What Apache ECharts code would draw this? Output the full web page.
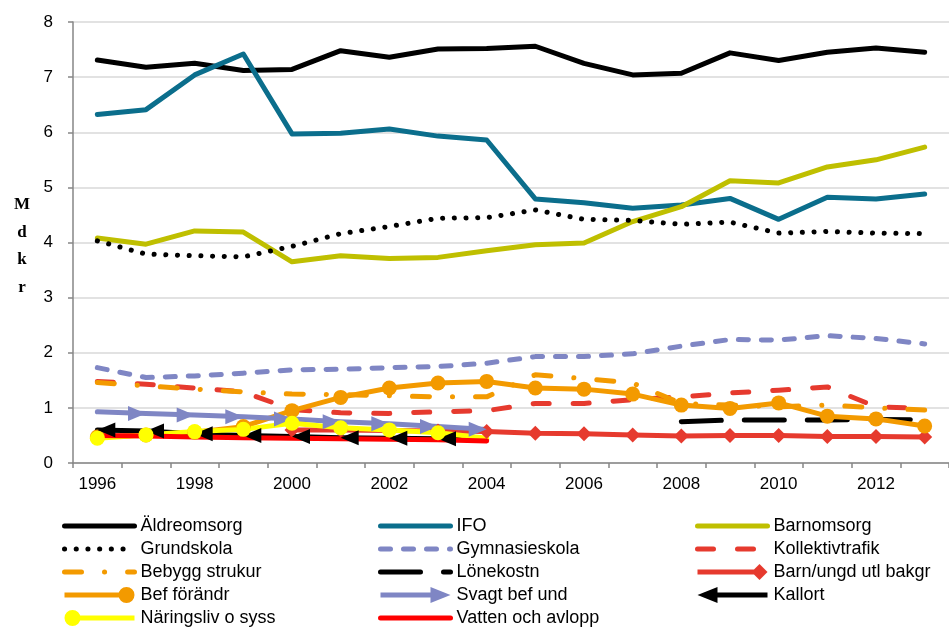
<!DOCTYPE html>
<html>
<head>
<meta charset="utf-8">
<title>Mdkr 1996–2013</title>
<script src="https://cdn.jsdelivr.net/npm/echarts@6/dist/echarts.min.js"></script>
<style>
  html, body { margin: 0; padding: 0; background: #fff; }
  #chart { width: 949px; height: 627px; }
</style>
</head>
<body>
<div id="chart"></div>
<script>
// Categories
const years = ['1996','1997','1998','1999','2000','2001','2002','2003','2004',
               '2005','2006','2007','2008','2009','2010','2011','2012','2013'];

// Series values (Mdkr), null where a series has no value
const aldreomsorg     = [7.31,7.18,7.25,7.12,7.14,7.48,7.36,7.51,7.52,7.56,7.25,7.04,7.07,7.44,7.30,7.45,7.53,7.45];
const ifo             = [6.32,6.41,7.04,7.42,5.97,5.98,6.06,5.93,5.86,4.79,4.72,4.62,4.68,4.80,4.42,4.82,4.79,4.88];
const barnomsorg      = [4.08,3.97,4.21,4.19,3.65,3.76,3.71,3.73,3.85,3.96,3.99,4.38,4.65,5.12,5.08,5.37,5.50,5.73];
const grundskola      = [4.03,3.79,3.76,3.74,3.93,4.16,4.29,4.44,4.45,4.59,4.42,4.40,4.33,4.37,4.17,4.20,4.17,4.16];
const gymnasieskola   = [1.73,1.55,1.58,1.63,1.69,1.70,1.73,1.75,1.81,1.93,1.93,1.98,2.12,2.24,2.23,2.31,2.26,2.16];
const kollektivtrafik = [1.48,1.43,1.36,1.29,0.97,0.91,0.90,0.93,0.95,1.08,1.08,1.15,1.20,1.27,1.32,1.38,1.02,0.99];
const bebyggStrukur   = [1.46,1.40,1.34,1.29,1.25,1.24,1.22,1.20,1.20,1.60,1.53,1.45,1.08,1.05,1.02,1.05,1.00,0.96];
const lonekostn       = [null,null,null,null,null,null,null,null,null,null,null,null,0.75,0.78,0.78,0.78,0.79,0.78];
const barnUngdUtl     = [null,null,null,null,0.60,0.60,0.59,0.58,0.57,0.54,0.53,0.51,0.49,0.50,0.50,0.48,0.48,0.47];
const befForandr      = [0.47,0.51,0.56,0.66,0.95,1.19,1.36,1.45,1.48,1.36,1.34,1.25,1.05,0.99,1.09,0.85,0.80,0.67];
const svagtBefUnd     = [0.93,0.90,0.87,0.84,0.80,0.75,0.71,0.66,0.61,null,null,null,null,null,null,null,null,null];
const kallort         = [0.60,0.58,0.53,0.50,0.48,0.46,0.45,0.44,0.43,null,null,null,null,null,null,null,null,null];
const naringsliv      = [0.45,0.51,0.57,0.61,0.72,0.64,0.60,0.55,0.45,null,null,null,null,null,null,null,null,null];
const vattenAvlopp    = [0.50,0.49,0.47,0.46,0.45,0.44,0.43,0.42,0.40,null,null,null,null,null,null,null,null,null];

// Y axis tick labels
const yTicks = ['0','1','2','3','4','5','6','7','8'];

const FONT = '"Liberation Sans", Arial, sans-serif';
const COL = {
  black: '#000000', teal: '#0B6E8C', olive: '#BFBF00', lavender: '#7F86C4',
  red: '#E63A2E', orange: '#F39A00', yellow: '#FFFF00', pure: '#FF0000'
};
const LW = 5;

// Legend icons for the series that carry markers
const ICONS = {
  circleRight: 'path://M0,5.5H60V10.5H0Z M54,8A8,8 0 1,1 70,8A8,8 0 1,1 54,8Z',
  circleLeft:  'path://M8,5.5H70V10.5H8Z M0,8A8,8 0 1,1 16,8A8,8 0 1,1 0,8Z',
  diamond:     'path://M0,5.5H58V10.5H0Z M54,8L62,0L70,8L62,16Z',
  arrowRight:  'path://M0,5.5H52V10.5H0Z M50,0L70,8L50,16Z',
  arrowLeft:   'path://M18,5.5H70V10.5H18Z M0,8L20,0L20,16Z'
};

const specs = [
  { name: 'Äldreomsorg',        data: aldreomsorg,     color: COL.black,    dash: 'solid' },
  { name: 'IFO',                data: ifo,             color: COL.teal,     dash: 'solid' },
  { name: 'Barnomsorg',         data: barnomsorg,      color: COL.olive,    dash: 'solid' },
  { name: 'Grundskola',         data: grundskola,      color: COL.black,    dash: [0.1, 11.6] },
  { name: 'Gymnasieskola',      data: gymnasieskola,   color: COL.lavender, dash: [10, 13] },
  { name: 'Kollektivtrafik',    data: kollektivtrafik, color: COL.red,      dash: [16, 24] },
  { name: 'Bebygg strukur',     data: bebyggStrukur,   color: COL.orange,   dash: [17, 23, 0.1, 23] },
  { name: 'Lönekostn',          data: lonekostn,       color: COL.black,    dash: [40, 23] },
  { name: 'Barn/ungd utl bakgr',data: barnUngdUtl,     color: COL.red,      dash: 'solid', marker: 'diamond', icon: ICONS.diamond },
  { name: 'Bef förändr',        data: befForandr,      color: COL.orange,   dash: 'solid', marker: 'circle',  icon: ICONS.circleRight },
  { name: 'Svagt bef und',      data: svagtBefUnd,     color: COL.lavender, dash: 'solid', marker: 'arrowR',  icon: ICONS.arrowRight },
  { name: 'Kallort',            data: kallort,         color: COL.black,    dash: 'solid', marker: 'arrowL',  icon: ICONS.arrowLeft },
  { name: 'Näringsliv o syss',  data: naringsliv,      color: COL.yellow,   dash: 'solid', marker: 'circleY', icon: ICONS.circleLeft },
  { name: 'Vatten och avlopp',  data: vattenAvlopp,    color: COL.pure,     dash: 'solid' }
];

// Marker for one data point of a series
function pointOf(spec, v, i) {
  if (v == null) return null;
  const lastIdx = spec.data.reduce((m, d, k) => (d != null ? k : m), -1);
  switch (spec.marker) {
    case 'circle':  return { value: v, symbol: 'circle', symbolSize: 15 };
    case 'circleY': return i === lastIdx ? { value: v, symbol: 'none' } : { value: v, symbol: 'circle', symbolSize: 15 };
    case 'diamond': return { value: v, symbol: 'diamond', symbolSize: 15 };
    case 'arrowR':  // arrow head ending each segment, tip on the point
      return i === 0 ? { value: v, symbol: 'none' }
        : { value: v, symbol: 'triangle', symbolSize: [15, 18], symbolRotate: -90, symbolOffset: [-9, 0] };
    case 'arrowL':  // arrow head starting each segment, tip on the point
      return i === lastIdx ? { value: v, symbol: 'none' }
        : { value: v, symbol: 'triangle', symbolSize: [15, 18], symbolRotate: 90, symbolOffset: [9, 0] };
    default: return { value: v, symbol: 'none' };
  }
}

const series = specs.map(s => ({
  name: s.name,
  type: 'line',
  data: s.data.map((v, i) => pointOf(s, v, i)),
  connectNulls: false,
  showAllSymbol: true,
  color: s.color,
  lineStyle: { color: s.color, width: LW, type: s.dash, cap: 'round', join: 'round' },
  itemStyle: { color: s.color },
  emphasis: { disabled: true },
  silent: true
}));

function legendItem(name) {
  const s = specs.find(p => p.name === name);
  if (s.icon) return { name, icon: s.icon, itemStyle: { opacity: 1 } };
  return { name, lineStyle: { width: LW, type: s.dash, cap: 'round', color: s.color }, itemStyle: { opacity: 0 } };
}

const legendCols = [
  { left: 62,  names: ['Äldreomsorg', 'Grundskola', 'Bebygg strukur', 'Bef förändr', 'Näringsliv o syss'] },
  { left: 378, names: ['IFO', 'Gymnasieskola', 'Lönekostn', 'Svagt bef und', 'Vatten och avlopp'] },
  { left: 695, names: ['Barnomsorg', 'Kollektivtrafik', 'Barn/ungd utl bakgr', 'Kallort'] }
];

const legends = legendCols.map(c => ({
  orient: 'vertical',
  left: c.left,
  top: 517,
  width: 250,
  height: 200,
  padding: 0,
  itemWidth: 70,
  itemHeight: 16,
  itemGap: 5,
  selectedMode: false,
  itemStyle: { opacity: 0 },
  textStyle: { color: '#000', fontSize: 18, lineHeight: 16, fontFamily: FONT, padding: [0, 0, 0, 1] },
  data: c.names.map(legendItem)
}));

const chart = echarts.init(document.getElementById('chart'), null, { renderer: 'canvas' });
chart.setOption({
  animation: false,
  backgroundColor: '#ffffff',
  grid: { left: 73, top: 22, bottom: 164, right: -5, containLabel: false },
  xAxis: {
    type: 'category',
    data: years,
    boundaryGap: true,
    axisLine: { show: true, lineStyle: { color: '#868686', width: 1.5 } },
    axisTick: { show: true, interval: 0, length: 5, lineStyle: { color: '#868686', width: 1.5 } },
    axisLabel: { interval: 1, color: '#000', fontSize: 17, fontFamily: FONT, margin: 13 },
    splitLine: { show: false }
  },
  yAxis: {
    type: 'value',
    min: 0, max: 8, interval: 1,
    axisLine: { show: true, lineStyle: { color: '#868686', width: 1.5 } },
    axisTick: { show: true, length: 5, lineStyle: { color: '#868686', width: 1.5 } },
    axisLabel: { color: '#000', fontSize: 17, fontFamily: FONT, margin: 20,
                 formatter: v => yTicks[Math.round(v)] },
    splitLine: { show: true, lineStyle: { color: '#D9D9D9', width: 1.5 } }
  },
  legend: legends,
  graphic: [{
    type: 'text',
    x: 22, y: 191,
    silent: true,
    style: {
      text: 'M\nd\nk\nr',
      fill: '#000',
      font: 'bold 17px "Liberation Serif", "DejaVu Serif", serif',
      lineHeight: 27.5,
      align: 'center',
      verticalAlign: 'top'
    }
  }],
  series
});
</script>
</body>
</html>
